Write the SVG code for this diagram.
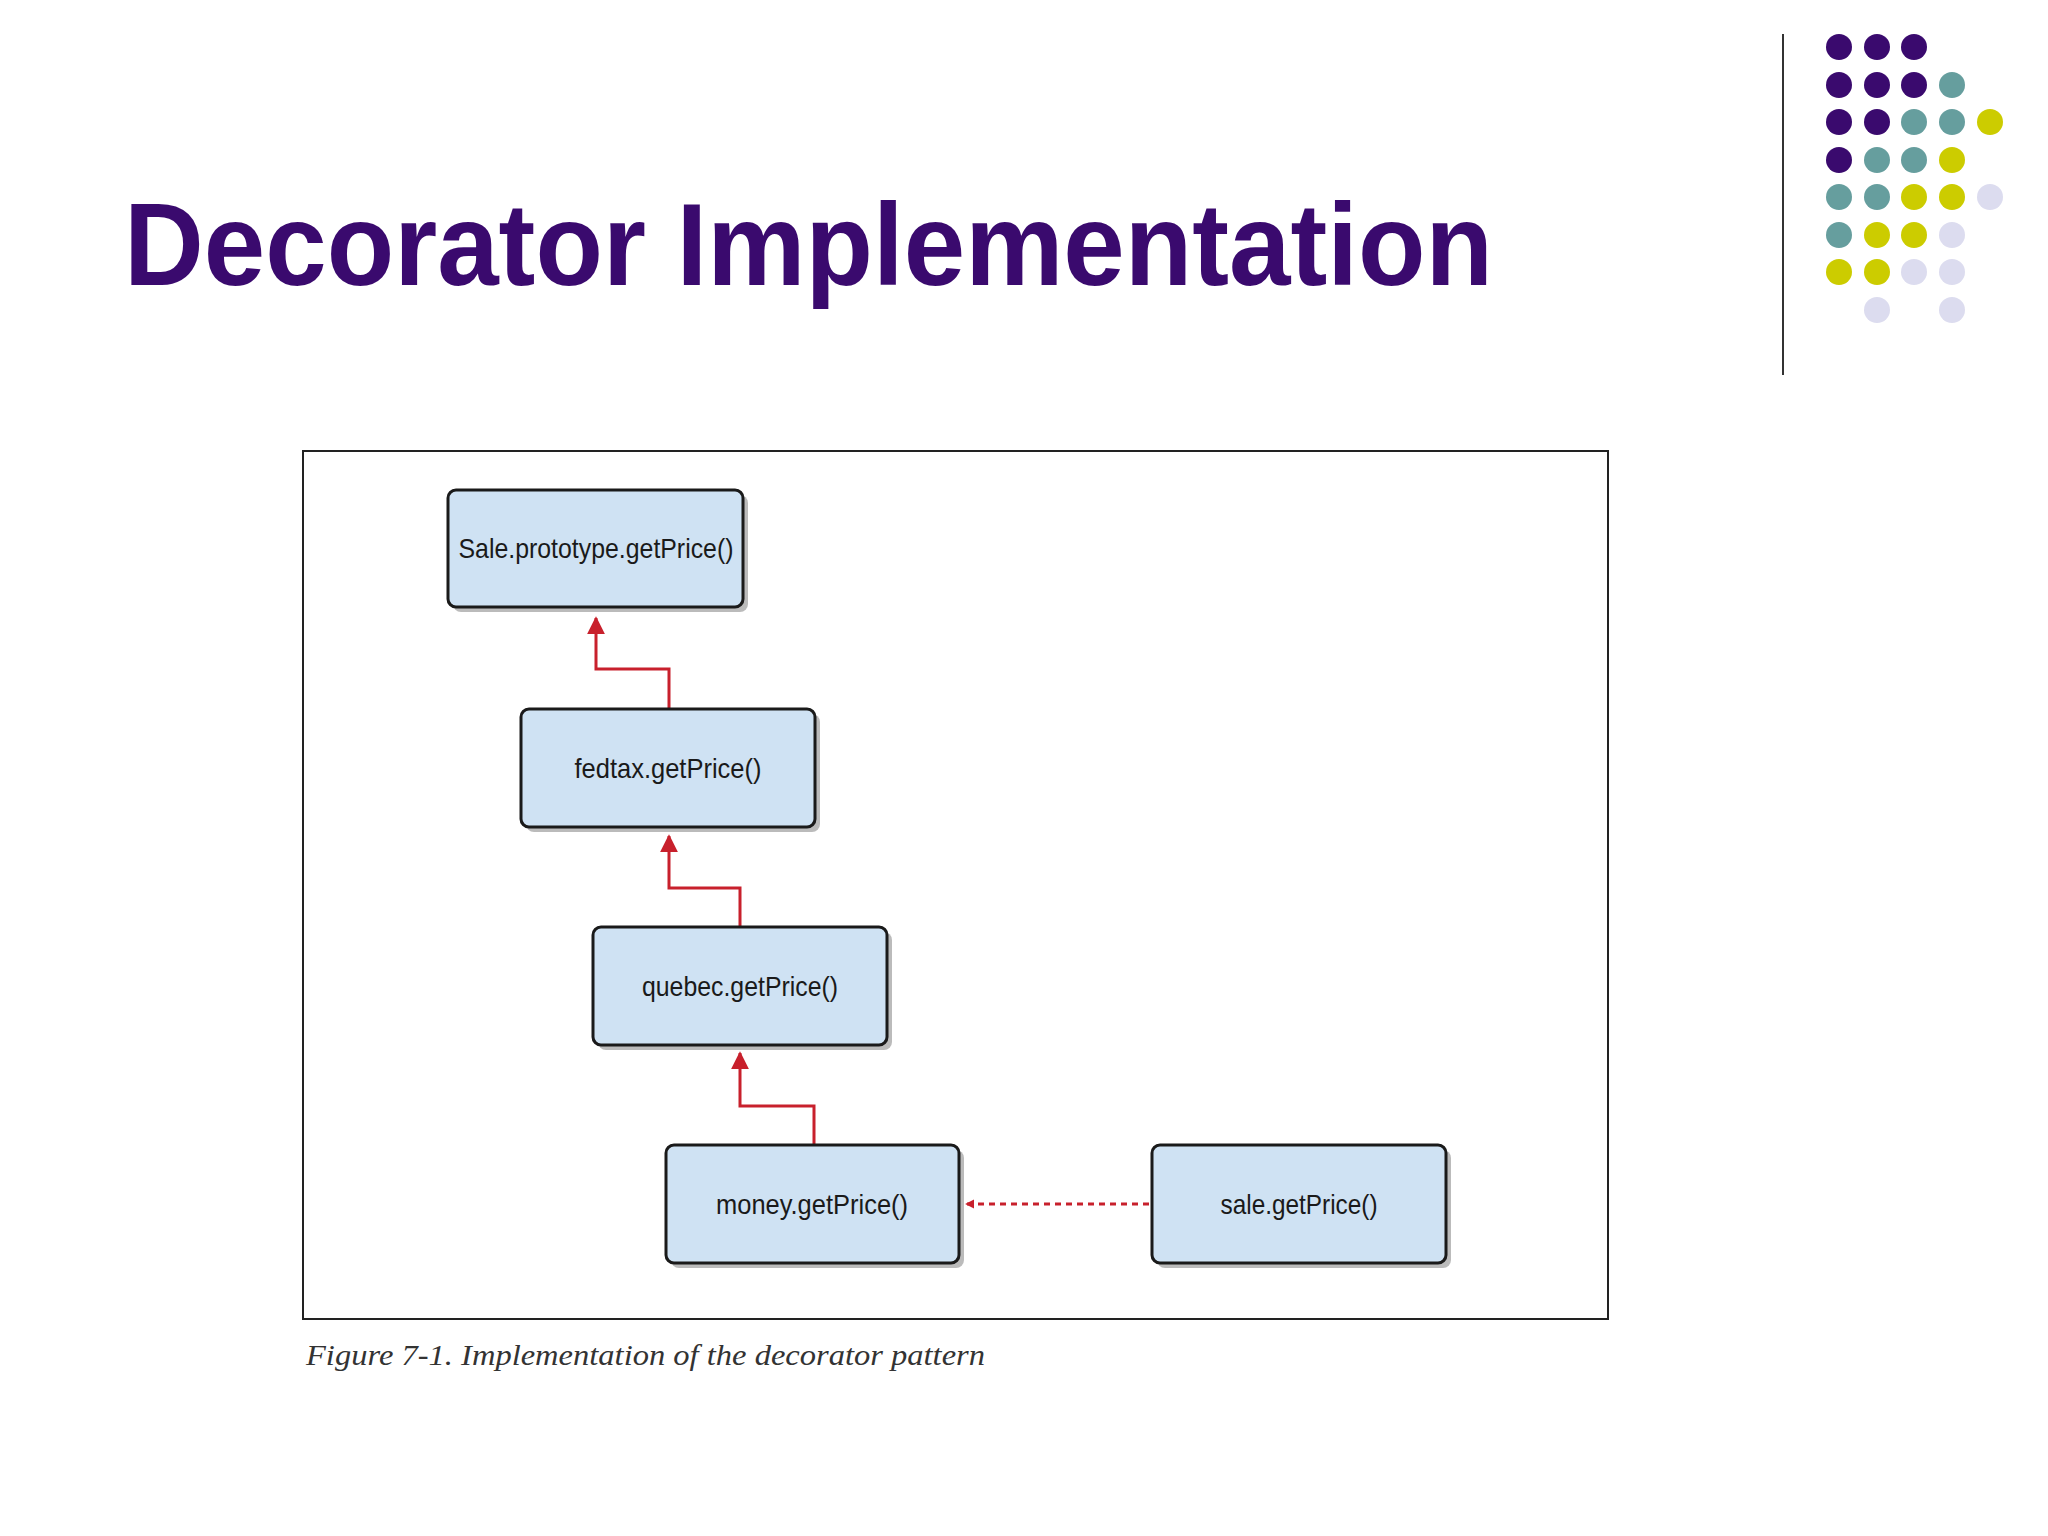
<svg xmlns="http://www.w3.org/2000/svg" width="2048" height="1536" viewBox="0 0 2048 1536">
<defs>
<style>
.box{fill:#cfe2f3;stroke:#1a1a1a;stroke-width:3}
.shadow{fill:#777;opacity:0.5}
.lbl{font-family:"Liberation Sans",Arial,sans-serif;font-size:28px;fill:#1a1a1a;text-anchor:middle}
.con{fill:none;stroke:#c8202c;stroke-width:3}
.P{fill:#3a0a6e}.T{fill:#669e9e}.Y{fill:#cccc00}.L{fill:#dcdcef}
</style>
<marker id="ah" viewBox="0 0 10 10" refX="9" refY="5" markerWidth="6" markerHeight="6" orient="auto-start-reverse"><path d="M0,0L10,5L0,10z" fill="#c8202c"/></marker>
<marker id="ah2" viewBox="0 0 10 10" refX="9" refY="5" markerWidth="3" markerHeight="3.6" orient="auto"><path d="M0,0L10,5L0,10z" fill="#c8202c"/></marker>
</defs>
<rect width="2048" height="1536" fill="#fff"/>
<text x="124" y="285" font-family="Liberation Sans,Arial,sans-serif" font-weight="bold" font-size="116" fill="#3a0a6e" textLength="1369" lengthAdjust="spacingAndGlyphs">Decorator Implementation</text>
<line x1="1783" y1="34" x2="1783" y2="375" stroke="#333" stroke-width="2"/>
<g>
<circle class="P" cx="1839" cy="47" r="13"/><circle class="P" cx="1877" cy="47" r="13"/><circle class="P" cx="1914" cy="47" r="13"/>
<circle class="P" cx="1839" cy="85" r="13"/><circle class="P" cx="1877" cy="85" r="13"/><circle class="P" cx="1914" cy="85" r="13"/><circle class="T" cx="1952" cy="85" r="13"/>
<circle class="P" cx="1839" cy="122" r="13"/><circle class="P" cx="1877" cy="122" r="13"/><circle class="T" cx="1914" cy="122" r="13"/><circle class="T" cx="1952" cy="122" r="13"/><circle class="Y" cx="1990" cy="122" r="13"/>
<circle class="P" cx="1839" cy="160" r="13"/><circle class="T" cx="1877" cy="160" r="13"/><circle class="T" cx="1914" cy="160" r="13"/><circle class="Y" cx="1952" cy="160" r="13"/>
<circle class="T" cx="1839" cy="197" r="13"/><circle class="T" cx="1877" cy="197" r="13"/><circle class="Y" cx="1914" cy="197" r="13"/><circle class="Y" cx="1952" cy="197" r="13"/><circle class="L" cx="1990" cy="197" r="13"/>
<circle class="T" cx="1839" cy="235" r="13"/><circle class="Y" cx="1877" cy="235" r="13"/><circle class="Y" cx="1914" cy="235" r="13"/><circle class="L" cx="1952" cy="235" r="13"/>
<circle class="Y" cx="1839" cy="272" r="13"/><circle class="Y" cx="1877" cy="272" r="13"/><circle class="L" cx="1914" cy="272" r="13"/><circle class="L" cx="1952" cy="272" r="13"/>
<circle class="L" cx="1877" cy="310" r="13"/><circle class="L" cx="1952" cy="310" r="13"/>
</g>
<rect x="303" y="451" width="1305" height="868" fill="#fff" stroke="#222" stroke-width="2"/>
<g id="connectors">
<path class="con" d="M669,709V669H596V618" marker-end="url(#ah)"/>
<path class="con" d="M740,927V888H669V836" marker-end="url(#ah)"/>
<path class="con" d="M814,1145V1106H740V1053" marker-end="url(#ah)"/>
<path class="con" d="M1149,1204H966" stroke-width="8" stroke-dasharray="6,5" marker-end="url(#ah2)"/>
</g>
<g id="n1"><rect class="shadow" x="453" y="495" width="295" height="117" rx="8"/><rect class="box" x="448" y="490" width="295" height="117" rx="8"/><text class="lbl" x="596" y="558" textLength="275" lengthAdjust="spacingAndGlyphs">Sale.prototype.getPrice()</text></g>
<g id="n2"><rect class="shadow" x="526" y="714" width="294" height="118" rx="8"/><rect class="box" x="521" y="709" width="294" height="118" rx="8"/><text class="lbl" x="668" y="778" textLength="187" lengthAdjust="spacingAndGlyphs">fedtax.getPrice()</text></g>
<g id="n3"><rect class="shadow" x="598" y="932" width="294" height="118" rx="8"/><rect class="box" x="593" y="927" width="294" height="118" rx="8"/><text class="lbl" x="740" y="996" textLength="196" lengthAdjust="spacingAndGlyphs">quebec.getPrice()</text></g>
<g id="n4"><rect class="shadow" x="671" y="1150" width="293" height="118" rx="8"/><rect class="box" x="666" y="1145" width="293" height="118" rx="8"/><text class="lbl" x="812" y="1214" textLength="192" lengthAdjust="spacingAndGlyphs">money.getPrice()</text></g>
<g id="n5"><rect class="shadow" x="1157" y="1150" width="294" height="118" rx="8"/><rect class="box" x="1152" y="1145" width="294" height="118" rx="8"/><text class="lbl" x="1299" y="1214" textLength="157" lengthAdjust="spacingAndGlyphs">sale.getPrice()</text></g>
<text x="306" y="1365" font-family="Liberation Serif,'Times New Roman',serif" font-style="italic" font-size="29" fill="#333" textLength="679" lengthAdjust="spacingAndGlyphs">Figure 7-1. Implementation of the decorator pattern</text>
</svg>
